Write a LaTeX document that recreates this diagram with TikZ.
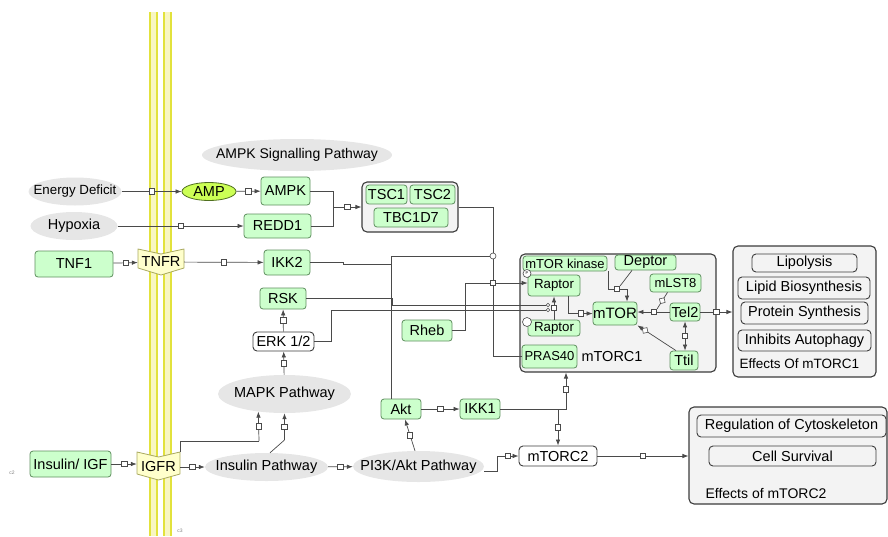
\documentclass[tikz,border=0pt]{standalone}
\usepackage{fontspec}
\setmainfont{Liberation Sans}
\usetikzlibrary{shapes,arrows.meta,positioning,calc}

\definecolor{gfill}{HTML}{CCFFCC}
\definecolor{gline}{HTML}{5E8F5E}
\definecolor{ampfill}{HTML}{CCFF55}
\definecolor{ampline}{HTML}{4F6F1F}
\definecolor{ellfill}{HTML}{E6E6E6}
\definecolor{cplxfill}{HTML}{F3F3F3}
\definecolor{dline}{HTML}{3C3C3C}
\definecolor{recfill}{HTML}{FFFFCC}
\definecolor{recline}{HTML}{A9A95F}
\definecolor{memfill}{HTML}{F8F6C2}
\definecolor{memline}{HTML}{E2E23C}
\definecolor{linec}{HTML}{4A4A4A}

\newcommand{\fsz}[1]{\fontsize{#1}{#1}\selectfont}

\begin{document}
\begin{tikzpicture}[
  x=1pt, y=-1pt,
  font=\fsz{14.5},
  dim/.style 2 args={minimum width=#1pt, minimum height=#2pt},
  gbox/.style={rectangle, rounded corners=3pt, draw=gline, fill=gfill, line width=0.8pt, inner sep=0pt},
  wbox/.style={rectangle, rounded corners=4pt, draw=dline, fill=white, line width=0.9pt, inner sep=0pt},
  ebox/.style={wbox, fill=none},
  cplx/.style={rectangle, rounded corners=5pt, draw=dline, fill=cplxfill, line width=1.1pt, inner sep=0pt},
  ell/.style={ellipse, fill=ellfill, inner sep=-100pt},
  ampell/.style={ellipse, draw=ampline, fill=ampfill, line width=0.8pt, inner sep=-100pt},
  recep/.style={rectangle, inner sep=0pt},
  recshape/.style={draw=recline, fill=recfill, line width=0.8pt, line join=round},
  memb/.style={draw=memline, line width=1.4pt},
  wire/.style={draw=linec, line width=0.7pt},
  link/.style={wire, -{Latex[length=6pt,width=4.5pt]}},
  dlink/.style={wire, {Latex[length=6pt,width=4.5pt]}-{Latex[length=6pt,width=4.5pt]}},
  sq/.style={rectangle, draw=linec, fill=white, line width=0.6pt, minimum size=5.5pt, inner sep=0pt},
  dia/.style={diamond, draw=linec, fill=white, line width=0.6pt, minimum size=7pt, inner sep=0pt},
  inh/.style={circle, draw=linec, fill=white, line width=0.6pt, minimum size=6pt, inner sep=0pt},
  mod/.style={circle, draw=linec, fill=white, line width=0.5pt, minimum size=3.5pt, inner sep=0pt}
]
  \useasboundingbox (0,0) rectangle (888,536);

  % membrane
  \foreach \mx in {150,164} {
    \fill[memfill] (\mx,12) rectangle (\mx+7,536);
    \draw[memb] (\mx,12) -- (\mx,536) (\mx+7,12) -- (\mx+7,536);
  }
  \draw[recshape] (138,249) -- (161,254) -- (184,249) -- (184,268) -- (161,275) -- (138,268) -- cycle;
  \draw[recshape] (137,452) -- (158.5,457) -- (180,452) -- (180,474) -- (158.5,480) -- (137,474) -- cycle;

  % inputs and upstream
  \node[ell, dim={190}{32}, font=\fsz{14}] (ampkpw) at (297,155) {AMPK Signalling Pathway};
  \node[ell, dim={93}{28}, font=\fsz{13.3}] (energy) at (75,191.5) {Energy Deficit};
  \node[ampell, dim={54}{18}] (amp) at (209,191.5) {AMP};
  \node[gbox, dim={49}{28}] (ampk) at (285.5,191) {AMPK};
  \node[ell, dim={87}{28}] (hypoxia) at (74,226) {Hypoxia};
  \node[gbox, dim={67}{24}] (redd1) at (277.5,226) {REDD1};
  \node[cplx, dim={96}{50}] (tsc) at (410,207) {};
  \node[gbox, dim={41}{19}] (tsc1) at (386.5,194.5) {TSC1};
  \node[gbox, dim={45}{19}] (tsc2) at (432.5,194.5) {TSC2};
  \node[gbox, dim={74}{19}] (tbc1d7) at (411,217.5) {TBC1D7};
  \node[gbox, dim={78}{26}] (tnf1) at (74,264) {TNF1};
  \node[recep, dim={46}{26}] (tnfr) at (161,262) {TNFR};
  \node[gbox, dim={46}{25}] (ikk2) at (287,262.5) {IKK2};
  \node[gbox, dim={46}{21}] (rsk) at (283,298.5) {RSK};
  \node[wbox, dim={61}{19}] (erk) at (283.5,341.5) {ERK 1/2};
  \node[ell, dim={133}{38}] (mapk) at (284.5,394) {MAPK Pathway};
  \node[gbox, dim={50}{21}] (rheb) at (427,330.5) {Rheb};

  % mTORC1 complex
  \node[cplx, dim={196}{118}] (mtorc1) at (618,313) {};
  \node[gbox, dim={84}{15}, font=\fsz{13}] (mtorkin) at (565,263.5) {mTOR kinase};
  \node[gbox, dim={61}{15}] (deptor) at (645.5,262.5) {Deptor};
  \node[gbox, dim={52}{21}, font=\fsz{13.3}] (raptor1) at (554,285.5) {Raptor};
  \node[gbox, dim={51}{18}, font=\fsz{13}] (mlst8) at (675.5,283) {mLST8};
  \node[gbox, dim={44}{23}, font=\fsz{15}] (mtor) at (615,313.5) {mTOR};
  \node[gbox, dim={30}{18}] (tel2) at (685,312) {Tel2};
  \node[gbox, dim={52}{16}, font=\fsz{13.3}] (raptor2) at (554,328) {Raptor};
  \node[gbox, dim={55}{23}, font=\fsz{13}] (pras40) at (549.5,356.5) {PRAS40};
  \node[gbox, dim={28}{19}] (ttil) at (684,360.5) {Ttil};
  \node[anchor=west] (mtorc1lbl) at (578,357) {mTORC1};
  \node[inh, minimum size=8pt, font=\fsz{4}] (raptorp) at (527,273.5) {P};
  \node[inh, minimum size=9pt] (raptoro) at (527,322) {};

  % effects of mTORC1
  \node[cplx, dim={143}{131}] (eff1) at (804.5,311.5) {};
  \node[ebox, dim={105}{18}] (lipo) at (804.5,263) {Lipolysis};
  \node[ebox, dim={132}{22}] (lipid) at (804,288) {Lipid Biosynthesis};
  \node[ebox, dim={127}{22}] (protsyn) at (804.5,313) {Protein Synthesis};
  \node[ebox, dim={133}{21}] (autoph) at (804.5,340.5) {Inhibits Autophagy};
  \node[anchor=west, font=\fsz{13.5}] (eff1lbl) at (736,364) {Effects Of mTORC1};

  % insulin branch
  \node[gbox, dim={40}{20}] (akt) at (401,409) {Akt};
  \node[gbox, dim={40}{20}] (ikk1) at (480,409) {IKK1};
  \node[wbox, dim={78}{20}] (mtorc2) at (558,456) {mTORC2};
  \node[gbox, dim={81}{26}] (insulin) at (70.5,464) {Insulin/ IGF};
  \node[recep, dim={43}{28}] (igfr) at (158.5,466) {IGFR};
  \node[ell, dim={123}{28}] (inspw) at (266.5,467) {Insulin Pathway};
  \node[ell, dim={131}{31}] (pi3k) at (418.5,466.5) {PI3K/Akt Pathway};

  % effects of mTORC2
  \node[cplx, dim={198}{97}] (eff2) at (788,455.5) {};
  \node[ebox, dim={189}{22}] (cytosk) at (791.5,426) {Regulation of Cytoskeleton};
  \node[ebox, dim={167}{20}] (survival) at (792.5,456) {Cell Survival};
  \node[font=\fsz{14}] (eff2lbl) at (766,493) {Effects of mTORC2};

  \node[font=\fsz{5}, text=gray] (c2) at (12,473) {c2};
  \node[font=\fsz{5}, text=gray] (c3) at (180,531) {c3};

  % upstream connectors
  \draw[link] (energy) -- node[sq]{} (amp);
  \draw[link] (amp) -- node[sq]{} (ampk);
  \draw[link] (hypoxia) -- node[sq]{} (redd1);
  \coordinate (tscin) at (333,207);
  \draw[wire] (ampk.east) -| (tscin);
  \draw[wire] (redd1.east) -| (tscin);
  \draw[link] (tscin) -- node[sq]{} (tsc.west);
  \draw[link] (tnf1) -- node[sq]{} (tnfr);
  \draw[link] (tnfr) -- node[sq]{} (ikk2);

  % TSC / Rheb junction
  \node[inh] (tscjn) at (493,256) {};
  \node[sq] (rhebsq) at (493,283) {};
  \coordinate (aktup) at (391,256);
  \coordinate (ikk2in) at (391,264);
  \draw[wire] (tsc.east) -| (tscjn.north);
  \draw[wire] (ikk2.east) -- ++(33,0) -- ++(0,1.5) -- (ikk2in);
  \draw[wire] (akt.north -| aktup) -- (aktup) -- (tscjn.west);
  \draw[wire] (tscjn.south) -- (rhebsq.north);
  \draw[wire] (rheb.east) -- ++(13,0) |- (rhebsq.west);
  \draw[link] (rhebsq.east) -- (raptor1.west |- rhebsq);
  \draw[wire] (rhebsq.south) |- (pras40.west);

  % RSK and ERK onto Raptor
  \node[mod] (rskmod) at (548,305) {};
  \node[mod] (erkmod) at (548,310) {};
  \draw[wire] (rsk.east) -- ++(86,0) |- (rskmod.west);
  \draw[wire] (erk.east) -- ++(17,0) |- (erkmod.west);
  \draw[link] (erk) -- node[sq]{} (rsk);
  \draw[link] (mapk) -- node[sq]{} (erk);

  % inside mTORC1
  \draw[link] (raptor2.north) -- node[sq]{} (raptor1.south);
  \draw[link] ([xshift=14pt]raptor1.south) |- node[sq, pos=0.76]{} (mtor.west);
  \node[sq] (kinsq) at (617,289) {};
  \draw[wire] ([xshift=43pt]mtorkin.south) |- (kinsq.west);
  \draw[wire] ([xshift=-13.5pt]deptor.south) -- (kinsq.north east);
  \draw[link] (kinsq.east) -| ([xshift=12pt]mtor.north);
  \node[sq] (tel2sq) at (654,312) {};
  \draw[wire] (tel2.west) -- (tel2sq.east);
  \draw[link] (tel2sq.west) -- (mtor.east |- tel2sq);
  \draw[wire] ([xshift=-8pt]mlst8.south) -- node[dia, sloped]{} (tel2sq.north east);
  \draw[link] ([xshift=-8pt]ttil.north) -- node[dia, sloped, pos=0.8]{} (mtor.south east);
  \draw[dlink] (tel2.south) -- node[sq]{} (tel2.south |- ttil.north);
  \draw[link] (tel2.east) -- node[sq]{} (eff1.west |- tel2);

  % insulin connectors
  \coordinate (igfrbend) at (259,441);
  \coordinate (insbend) at (284.5,440);
  \draw[link] (insulin) -- node[sq]{} (igfr.west |- insulin);
  \draw[wire] (igfr.north east) |- (igfrbend);
  \draw[link] (igfrbend) -- node[sq]{} (mapk.214.5);
  \draw[wire] ([xshift=3.5pt]inspw.north) -- (insbend);
  \draw[link] (insbend) -- node[sq]{} (mapk.south);
  \draw[link] (igfr.east |- inspw) -- node[sq]{} (inspw);
  \draw[link] (inspw) -- node[sq]{} (pi3k);
  \draw[link] ([xshift=-3.5pt]pi3k.north) -- node[sq]{} ([xshift=4pt]akt.south);
  \draw[link] (akt) -- node[sq]{} (ikk1);
  \draw[link] (ikk1.east) -| node[sq, pos=0.77]{} ([xshift=-52pt]mtorc1.south);
  \draw[link] (mtorc2.north |- ikk1.east) -- node[sq]{} (mtorc2.north);
  \draw[link] ([yshift=-5pt]pi3k.east) -- ++(13,0) |- node[sq, pos=0.75]{} (mtorc2.west);
  \draw[link] (mtorc2) -- node[sq]{} (eff2.west |- mtorc2);
\end{tikzpicture}
\end{document}
